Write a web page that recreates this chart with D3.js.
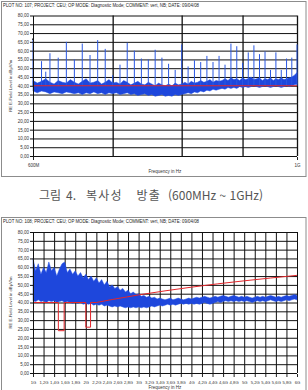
<!DOCTYPE html>
<html lang="ko">
<head>
<meta charset="UTF-8" />
<title>복사성 방출</title>
<script src="https://d3js.org/d3.v7.min.js"></script>
<style>
  body { margin: 0; background: #fff; }
  svg { display: block; }
</style>
</head>
<body>
<svg id="chart" width="308" height="390"></svg>
<script>
// ---- PLOT 107: 600 MHz .. 1 GHz (log axis) ----
const topHeader = "PLOT NO: 107; PROJECT: CEU; OP MODE: Diagnostic Mode; COMMENT: vert, NB; DATE: 09/04/08";
const topSweep = [600, 5]; // start MHz, bin width MHz
// noise band, max / min per bin (dBµV/m)
const topHi = [43,41.5,42.5,44,42,41,43,42,41.5,43.5, 42,41,42.5,44,41.5,42,43,41,42,43.5,
  41.5,42,41,43,42,40.5,41.5,42.5,41,40.5, 42,41,40,41.5,40.5,40,41,40,41.5,40.5,
  41,42,41,42.5,41.5,42,43,42,42.5,43.5, 42,43,42.5,43,44,43,44.5,43.5,44,43,
  44.5,43.5,44,45,43.5,44,44.5,43,44,43.5, 44.5,43,44,43.5,44.5,43.5,44,44.5,45,46, 47.5];
const topLo = [37,36,37,36.5,35.5,36.5,36,35.5,36.5,36, 35.5,36,35,36,35.5,36.5,35.5,36,35,36,
  35.5,36,35,35.5,36,35,35.5,34.5,35,35.5, 34.5,35,34,34.5,35,34,34.5,34,35,34.5,
  35,35.5,36,35.5,36.5,36,37,36.5,37.5,37, 38,37.5,38,38.5,38,39,38.5,39,38.5,39.5,
  39,39.5,39,39.5,40,39.5,39,39.5,40,39.5, 39,39.5,40,39.5,39,39.5,40,39.5,40,40.5, 41];
const topSpikeFreqs = [600,610,615,620,630,640,650,660,670,680,690,700,710,720,730,740,750,760,770,780,
  790,800,810,820,830,840,850,860,870,880,890,900,910,920,930,940,950,960,970,980,990,1000];
const topSpikeLevels = [66.5,54,48,58.5,56,65,55,64,57.5,66,61,46,52,64.5,60,55.5,55,60.5,56,52.5,
  49,63.5,51,54.5,53.5,57,53.5,57,52,64,62.5,53,59,63,58,59.5,49,59,49,55.5,56,63.5];
const topLimitFreqs = [600, 1000];
const topLimitLevels = [40, 40];
const topGridFreqs = [700, 800, 900, 1000];
const topTickFreqs = [600, 1000];
const topTickLabels = ["600M", "1G"];

// ---- PLOT 108: 1 GHz .. 6 GHz (linear axis) ----
const botHeader = "PLOT NO: 108; PROJECT: CEU; OP MODE: Diagnostic Mode; COMMENT: vert, NB; DATE: 09/04/08";
const botSweep = [1, 0.05]; // start GHz, bin width GHz
const botHi = [65,58,62,56,60,57,63,58,60,55, 59,62,63,57,59,56,58,55,57,54,
  56,53,55,52,54,51,53,50,52,49, 50,48,49,47,48,46,47,45,46,44.5,
  45,43.5,44,43,43.5,42.5,43,42,42.5,42, 41.5,42,42.5,41.5,42,42.5,42,41.5,42,42.5,
  42,42.5,43,42.5,43,43.5,43,42.5,43,43.5, 43,43.5,44,43.5,43,43.5,44,43.5,43,43.5,
  43,43.5,43,42.5,43,43.5,43,43.5,43,43.5, 44,43.5,43,43.5,43,43.5,44,43.5,44,44.5, 44];
const botLo = [41,40.5,41.5,40.5,41,40,41,40.5,41,40, 40.5,41,40,40.5,40,39.5,40,39.5,40,39,
  39.5,39,39.5,38.5,39,38.5,39,38,38.5,38, 37.5,38,37.5,38,37.5,37,37.5,37,37.5,37,
  37.5,37,37.5,37,37.5,38,37.5,38,38.5,38, 38.5,39,38.5,39,38.5,39,39.5,39,39.5,39,
  39.5,39,39.5,39,39.5,40,39.5,39,39.5,40, 40.5,40,40.5,41,40.5,41,40.5,41,40.5,41,
  40.5,41,40.5,40,40.5,41,40.5,41,40.5,41, 41.5,41,40.5,41,40.5,41,41.5,41,41.5,42, 41.5];
const botLimitFreqs = [1, 1.48, 1.48, 1.59, 1.59, 2.0, 2.0, 2.09, 2.09, 2.2, 2.5, 3, 3.5, 4, 4.5, 5, 5.5, 6];
const botLimitLevels = [40, 40, 24, 24, 40, 40, 26, 26, 40, 40, 41.7, 44.3, 46.6, 48.7, 50.6, 52.3, 53.9, 55.4];
const botTickFreqs = [1,1.2,1.4,1.6,1.8,2,2.2,2.4,2.6,2.8,3,3.2,3.4,3.6,3.8,4,4.2,4.4,4.6,4.8,5,5.2,5.4,5.6,5.8,6];
const botTickLabels = ["1G","1,2G","1,4G","1,6G","1,8G","2G","2,2G","2,4G","2,6G","2,8G","3G","3,2G","3,4G",
  "3,6G","3,8G","4G","4,2G","4,4G","4,6G","4,8G","5G","5,2G","5,4G","5,6G","5,8G","6G"];

const levelTicks = [0,5,10,15,20,25,30,35,40,45,50,55,60,65,70,75,80];
const yTitle = "RE E-Field Level in dBµV/m";
const xTitle = "Frequency in Hz";
const captionWords = ["그림", "4.", "복사성", "방출", "(600MHz ~ 1GHz)"];

const svg = d3.select("#chart");
const small = "'Liberation Sans', Arial, sans-serif";
const fmtLevel = d3.formatLocale({ decimal: ",", thousands: ".", grouping: [3], currency: ["", ""] }).format(".2f");

function drawPlot(cfg) {
  const g = svg.append("g");
  const x = cfg.x;
  const y = d3.scaleLinear().domain([0, 80]).range(cfg.yRange);
  const [x0, x1] = x.range();
  const [yb, yt] = y.range();

  g.append("rect")
    .attr("x", 1.5).attr("y", cfg.frameTop + 0.5)
    .attr("width", 304.5).attr("height", cfg.frameH)
    .attr("fill", "none").attr("stroke", "#8c8c8c");

  g.append("text")
    .attr("x", 3).attr("y", cfg.frameTop + 6.2)
    .attr("font-family", small).attr("font-size", 4.5).attr("fill", "#222")
    .attr("textLength", 196).attr("lengthAdjust", "spacingAndGlyphs")
    .text(cfg.header);

  // grid
  g.append("g").attr("transform", `translate(${x0},0)`)
    .call(d3.axisLeft(y).tickValues(levelTicks).tickSize(-(x1 - x0)).tickFormat(""))
    .call(s => s.select(".domain").remove())
    .selectAll("line").attr("stroke", "#111");
  g.append("g").attr("transform", `translate(0,${yt})`)
    .call(d3.axisTop(x).tickValues(cfg.gridFreqs).tickSize(-(yb - yt)).tickFormat(""))
    .call(s => s.select(".domain").remove())
    .selectAll("line").attr("stroke", "#111").attr("stroke-width", cfg.gridW);

  // measured trace (max/min envelope)
  const fx = i => cfg.sweep[0] + cfg.sweep[1] * i;
  g.append("path")
    .datum(cfg.hi)
    .attr("fill", "#1e47dc").attr("stroke", "#2452e6").attr("stroke-width", 0.5)
    .attr("d", d3.area().x((d, i) => x(fx(i))).y0((d, i) => y(cfg.lo[i])).y1(d => y(d)));

  if (cfg.spikeFreqs) {
    g.append("g").selectAll("line")
      .data(cfg.spikeFreqs)
      .join("line")
      .attr("x1", d => x(d)).attr("x2", d => x(d))
      .attr("y1", y(40)).attr("y2", (d, i) => y(cfg.spikeLevels[i]))
      .attr("stroke", "#2a58e2").attr("stroke-width", 1);
    g.append("circle")
      .attr("cx", x(cfg.spikeFreqs[0])).attr("cy", y(cfg.spikeLevels[0]))
      .attr("r", 0.9).attr("fill", "#222");
  }

  // limit
  g.append("path")
    .datum(cfg.limitFreqs)
    .attr("fill", "none").attr("stroke", "#e3262b").attr("stroke-width", 1)
    .attr("d", d3.line().x(d => x(d)).y((d, i) => y(cfg.limitLevels[i])));

  // axes
  g.append("g").attr("transform", `translate(${x0},0)`)
    .call(d3.axisLeft(y).tickValues(levelTicks).tickSize(3).tickSizeOuter(0).tickPadding(1).tickFormat(fmtLevel))
    .call(s => s.select(".domain").attr("stroke", "#111"))
    .call(s => s.selectAll("line").attr("stroke", "#111"))
    .call(s => s.selectAll("text").attr("font-size", 4.5).attr("font-family", small).attr("fill", "#333"));

  g.append("g").attr("transform", `translate(0,${yb + 1})`)
    .call(d3.axisBottom(x).tickValues(cfg.tickFreqs).tickSize(3).tickPadding(4)
      .tickFormat((d, i) => cfg.tickLabels[i]))
    .call(s => s.select(".domain").remove())
    .call(s => s.selectAll("line").attr("stroke", "#222"))
    .call(s => s.selectAll("text").attr("font-size", cfg.tickFont).attr("font-family", small).attr("fill", "#333"));

  g.append("text")
    .attr("transform", `translate(12,${(yb + yt) / 2}) rotate(-90)`)
    .attr("text-anchor", "middle")
    .attr("font-family", small).attr("font-size", 4.2).attr("fill", "#333")
    .text(yTitle);
  g.append("text")
    .attr("x", (x0 + x1) / 2).attr("y", cfg.xTitleY)
    .attr("text-anchor", "middle")
    .attr("font-family", small).attr("font-size", 4.5).attr("fill", "#333")
    .text(xTitle);
}

drawPlot({
  header: topHeader,
  x: d3.scaleLog().domain([600, 1000]).range([33, 297]),
  yRange: [156, 15.5],
  frameTop: 1, frameH: 175,
  sweep: topSweep, hi: topHi, lo: topLo,
  spikeFreqs: topSpikeFreqs, spikeLevels: topSpikeLevels,
  limitFreqs: topLimitFreqs, limitLevels: topLimitLevels,
  gridFreqs: topGridFreqs, gridW: 1.3,
  tickFreqs: topTickFreqs, tickLabels: topTickLabels, tickFont: 4.5,
  xTitleY: 172.8
});

drawPlot({
  header: botHeader,
  x: d3.scaleLinear().domain([1, 6]).range([33, 297]),
  yRange: [373, 232],
  frameTop: 217, frameH: 180,
  sweep: botSweep, hi: botHi, lo: botLo,
  limitFreqs: botLimitFreqs, limitLevels: botLimitLevels,
  gridFreqs: botTickFreqs.slice(1), gridW: 1,
  tickFreqs: botTickFreqs, tickLabels: botTickLabels, tickFont: 4.2,
  xTitleY: 389
});

// caption (word positions and letter spacing from the scanned figure title)
const capX = [39, 66, 86, 136.5, 168];
const capSpacing = [0, 0, 1.2, 1.2, 0];
svg.append("g")
  .attr("font-family", "'Noto Sans CJK KR', sans-serif")
  .attr("font-size", 12).attr("fill", "#555")
  .selectAll("text")
  .data(captionWords)
  .join("text")
  .attr("x", (d, i) => capX[i]).attr("y", 199.5)
  .attr("letter-spacing", (d, i) => capSpacing[i])
  .text(d => d);
</script>
</body>
</html>
